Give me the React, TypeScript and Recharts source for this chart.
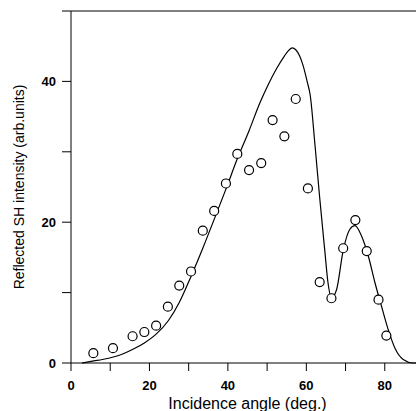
import { ComposedChart, Line, Scatter, XAxis, YAxis, ReferenceLine } from "recharts";

// measured points (circles)
const angleDeg = [5.7, 10.7, 15.7, 18.7, 21.7, 24.7, 27.6, 30.6, 33.6, 36.5, 39.5, 42.4, 45.4, 48.5, 51.4, 54.4, 57.3, 60.4, 63.4, 66.4, 69.4, 72.5, 75.4, 78.4, 80.4];
const shIntensity = [1.4, 2.1, 3.8, 4.4, 5.3, 8.0, 11.0, 13.0, 18.8, 21.6, 25.5, 29.7, 27.4, 28.4, 34.5, 32.2, 37.5, 24.8, 11.5, 9.2, 16.3, 20.3, 15.9, 9.0, 3.9];

// calculated curve
const fitAngle = [2.8, 5.8, 8, 10.8, 13, 15.8, 18.7, 21.7, 24.8, 27.6, 30.6, 33.6, 36.5, 39.5, 42.4, 45.4, 48.2, 50, 52.5, 54.4, 55.5, 56.4, 57.3, 58.3, 59.2, 60.2, 61.0, 62.2, 63.4, 64.7, 65.5, 66.4, 67.7, 69.4, 71.1, 72.4, 74.1, 75.8, 77.5, 79.2, 80.9, 82.6, 84.7, 87.2, 88];
const fitIntensity = [0, 0.3, 0.5, 0.85, 1.25, 1.95, 2.85, 4.1, 6.0, 8.6, 12.3, 16.3, 20.4, 24.7, 29.0, 33.0, 37.0, 39.2, 41.9, 43.6, 44.4, 44.75, 44.5, 43.6, 42.2, 40.0, 38.0, 31.0, 23.5, 16.0, 11.5, 9.25, 10.4, 16.0, 19.0, 19.5, 18.0, 15.2, 11.4, 8.0, 4.7, 2.1, 0.5, 0, 0];

const xTicks = [0, 10, 20, 30, 40, 50, 60, 70, 80, 90];
const yTicks = [0, 10, 20, 30, 40, 50];

const points = angleDeg.map((x, i) => ({ x, y: shIntensity[i] }));
const fit = fitAngle.map((x, i) => ({ x, y: fitIntensity[i] }));

const font = "'Liberation Sans', Arial, Helvetica, sans-serif";
const tickStyle = { fontSize: 13, fontWeight: 700, fill: "#000", fontFamily: font };

const Circle = (props: any) => <circle cx={props.cx} cy={props.cy} r={4.5} fill="#fff" stroke="#000" strokeWidth={1.2} />;

export default function App() {
  return (
    <div style={{ position: "absolute", left: 0, top: 0, width: 416, height: 411, overflow: "hidden", background: "#fff" }}>
      <ComposedChart width={430} height={430} margin={{ top: 11, right: 6, left: 0, bottom: 17 }}>
        <XAxis
          type="number"
          dataKey="x"
          domain={[0, 90]}
          ticks={xTicks}
          tickFormatter={(v: number) => (v % 20 === 0 && v < 90 ? String(v) : "")}
          tick={tickStyle}
          tickSize={8}
          tickMargin={10}
          stroke="#000"
          height={50}
          interval={0}
          allowDataOverflow
          label={{ value: "Incidence angle (deg.)", position: "insideBottom", offset: 4, style: { fontSize: 16, fill: "#000", fontFamily: font } }}
        />
        <YAxis
          type="number"
          domain={[0, 50]}
          ticks={yTicks}
          tickFormatter={(v: number) => (v % 20 === 0 ? String(v) : "")}
          tick={tickStyle}
          tickSize={9}
          tickMargin={6}
          stroke="#000"
          width={71}
          interval={0}
          label={{ value: "Reflected SH intensity (arb.units)", angle: -90, position: "insideLeft", offset: 19, style: { fontSize: 14, fill: "#000", fontFamily: font, textAnchor: "middle" } }}
        />
        <ReferenceLine y={50} stroke="#000" strokeWidth={1} ifOverflow="extendDomain" />
        <Line data={fit} dataKey="y" type="monotone" stroke="#000" strokeWidth={1.2} dot={false} isAnimationActive={false} />
        <Scatter data={points} dataKey="y" shape={Circle} isAnimationActive={false} />
      </ComposedChart>
    </div>
  );
}
